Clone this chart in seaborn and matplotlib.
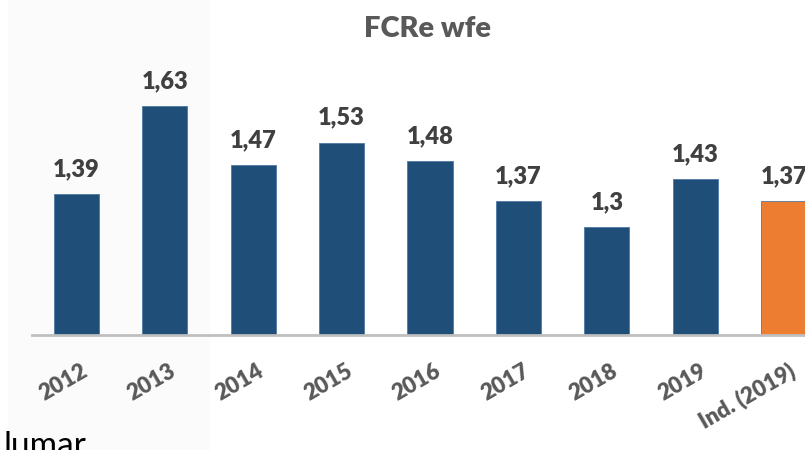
import pandas as pd
import seaborn as sns
import matplotlib
matplotlib.use('Agg')
import matplotlib.pyplot as plt
import matplotlib.transforms as mtransforms
from matplotlib.patches import Rectangle

# data
years = ['2012', '2013', '2014', '2015', '2016', '2017', '2018', '2019', 'Ind. (2019)']
fcre = [1.39, 1.63, 1.47, 1.53, 1.48, 1.37, 1.30, 1.43, 1.37]
group = ['own'] * 8 + ['industry']
palette = {'own': '#1F4E79', 'industry': '#ED7D31'}

df = pd.DataFrame({'year': years, 'fcre': fcre, 'group': group})

sns.set_theme(style='white')
plt.rcParams['font.family'] = ['Lato', 'DejaVu Sans']

fig = plt.figure(figsize=(8.05, 4.5), dpi=100)
# faint off-white panel on the left, as in the screenshot
fig.patches.append(Rectangle((8 / 805, 0), 202 / 805, 1, transform=fig.transFigure,
                             facecolor='#FBFBFB', edgecolor='none', zorder=-10))

# axes: x from -0.5 at 32px to 8.5 at 828px, baseline at y=335px
ax = fig.add_axes([32 / 805, (450 - 335) / 450, (828 - 32) / 805, (335 - 60) / 450])
ax.patch.set_alpha(0)

sns.barplot(data=df, x='year', y='fcre', hue='group', palette=palette,
            width=0.51, dodge=False, legend=False, ax=ax, saturation=1,
            edgecolor='#4F79A3', linewidth=0.6)

ax.set_xlim(-0.5, 8.5)
ax.set_ylim(1.006, 1.006 + (335 - 60) / 367)

# value labels
for i, v in enumerate(fcre):
    lbl = f'{v:g}'.replace('.', ',')
    ax.annotate(lbl, (i, v), xytext=(0, 10), textcoords='offset points',
                ha='center', va='bottom', fontsize=17, fontweight='heavy', color='#404040')

ax.set_yticks([])
ax.set_xlabel('')
ax.set_ylabel('')
for s in ['left', 'right', 'top']:
    ax.spines[s].set_visible(False)
ax.spines['bottom'].set_color('#BFBFBF')
ax.spines['bottom'].set_linewidth(2)

ax.tick_params(axis='x', length=0, pad=18)
plt.setp(ax.get_xticklabels(), rotation=30, ha='right', rotation_mode='anchor',
         fontsize=16, fontweight='heavy', color='#595959')
# shift rotated labels so their ends sit just right of the bar centre
offset = mtransforms.ScaledTranslation(4 / 100, 0, fig.dpi_scale_trans)
for t in ax.get_xticklabels():
    t.set_transform(t.get_transform() + offset)

fig.text(428 / 805, 1 - 29 / 450, 'FCRe wfe', ha='center', va='center',
         fontsize=21, fontweight='heavy', color='#595959')

# cut-off word from the slide below the chart
fig.text(3 / 805, -5 / 450, 'lumar', ha='left', va='baseline', fontsize=24, color='#000000')

fig.savefig('out.png', dpi=100)
